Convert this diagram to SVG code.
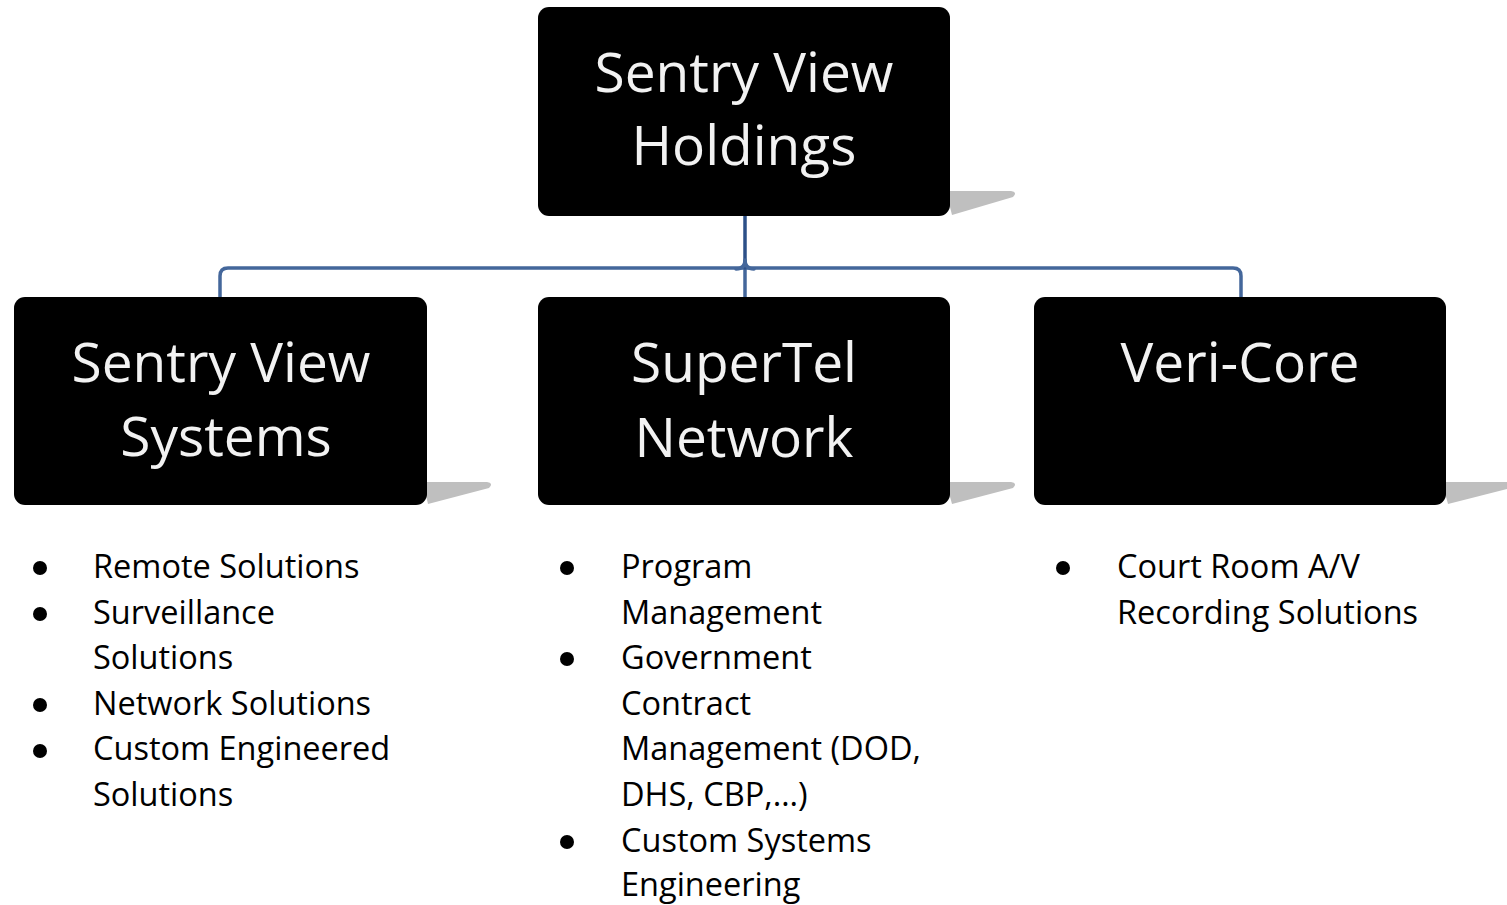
<svg xmlns="http://www.w3.org/2000/svg" width="1507" height="905" viewBox="0 0 1507 905">
  <style>
    .box { fill: #000000; }
    .shadow { fill: #bfbfbf; }
    .title { font-family: "Open Sans", "Noto Sans", sans-serif; font-size: 55px; fill: #f2f2f2; text-anchor: middle; }
    .item { font-family: "Open Sans", "Noto Sans", sans-serif; font-size: 32.5px; fill: #000000; }
    .dot { fill: #000000; }
    .conn { fill: none; stroke: #44679b; stroke-width: 3.5; stroke-linecap: round; stroke-linejoin: round; }
    .conn-top { stroke: #2d5088; }
  </style>
  <rect width="1507" height="905" fill="#ffffff"/>

  <!-- connectors -->
  <g id="connectors">
    <path class="conn" d="M220,297 V276 Q220,268 228,268 H1233 Q1241,268 1241,276 V297"/>
    <path class="conn" d="M745,268 V297"/>
    <path class="conn conn-top" d="M745,213 V268"/>
    <path class="conn" d="M736,269 Q745,269 745,260 Q745,269 754,269" stroke-width="2.5"/>
  </g>

  <!-- root node -->
  <g id="node-holdings">
    <path class="shadow" d="M946,191 H1011 Q1018,192 1013,197 L952,215 Z"/>
    <rect class="box" x="538" y="7" width="412" height="209" rx="11"/>
    <text class="title" x="744" y="92">Sentry View</text>
    <text class="title" x="744" y="165">Holdings</text>
  </g>

  <!-- child: Sentry View Systems -->
  <g id="node-systems">
    <path class="shadow" d="M423,482 H487 Q494,483 489,488 L428,504 Z"/>
    <rect class="box" x="14" y="297" width="413" height="208" rx="11"/>
    <text class="title" x="221" y="382">Sentry View</text>
    <text class="title" x="226" y="456">Systems</text>
  </g>

  <!-- child: SuperTel Network -->
  <g id="node-supertel">
    <path class="shadow" d="M946,482 H1011 Q1018,483 1013,488 L952,504 Z"/>
    <rect class="box" x="538" y="297" width="412" height="208" rx="11"/>
    <text class="title" x="744" y="382">SuperTel</text>
    <text class="title" x="744" y="457">Network</text>
  </g>

  <!-- child: Veri-Core -->
  <g id="node-vericore">
    <path class="shadow" d="M1442,482 H1507 V489 L1448,504 Z"/>
    <rect class="box" x="1034" y="297" width="412" height="208" rx="11"/>
    <text class="title" x="1240" y="382">Veri-Core</text>
  </g>

  <!-- Sentry View Systems services -->
  <g id="list-systems">
    <circle class="dot" cx="40" cy="568" r="7"/>
    <circle class="dot" cx="40" cy="614" r="7"/>
    <circle class="dot" cx="40" cy="705" r="7"/>
    <circle class="dot" cx="40" cy="751" r="7"/>
    <text class="item" x="93" y="578">Remote Solutions</text>
    <text class="item" x="93" y="624">Surveillance</text>
    <text class="item" x="93" y="669">Solutions</text>
    <text class="item" x="93" y="715">Network Solutions</text>
    <text class="item" x="93" y="760">Custom Engineered</text>
    <text class="item" x="93" y="806">Solutions</text>
  </g>

  <!-- SuperTel Network services -->
  <g id="list-supertel">
    <circle class="dot" cx="567" cy="568" r="7"/>
    <circle class="dot" cx="567" cy="659" r="7"/>
    <circle class="dot" cx="567" cy="842" r="7"/>
    <text class="item" x="621" y="578">Program</text>
    <text class="item" x="621" y="624">Management</text>
    <text class="item" x="621" y="669">Government</text>
    <text class="item" x="621" y="715">Contract</text>
    <text class="item" x="621" y="760">Management (DOD,</text>
    <text class="item" x="621" y="806">DHS, CBP,…)</text>
    <text class="item" x="621" y="852">Custom Systems</text>
    <text class="item" x="621" y="896">Engineering</text>
  </g>

  <!-- Veri-Core services -->
  <g id="list-vericore">
    <circle class="dot" cx="1063" cy="568" r="7"/>
    <text class="item" x="1117" y="578">Court Room A/V</text>
    <text class="item" x="1117" y="624">Recording Solutions</text>
  </g>
</svg>
